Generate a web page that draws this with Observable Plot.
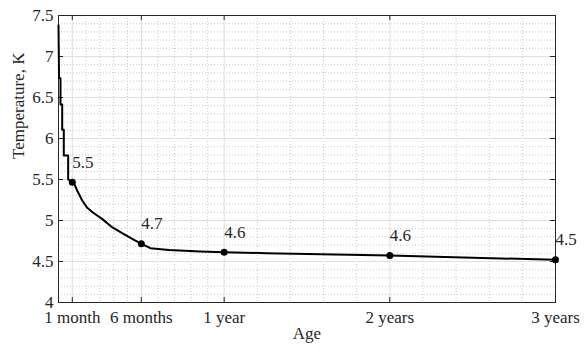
<!DOCTYPE html>
<html>
<head>
<meta charset="utf-8">
<script src="https://cdn.jsdelivr.net/npm/d3@7"></script>
<script src="https://cdn.jsdelivr.net/npm/@observablehq/plot@0.6"></script>
<style>
  html, body { margin: 0; padding: 0; background: #fff; }
  svg text { font-family: "Liberation Serif", "Times New Roman", serif !important; font-variant: normal !important; }
</style>
</head>
<body>
<div id="chart"></div>
<script>
// Age in months, temperature in K
const ageMonths = [0, 0.04, 0.145, 0.145, 0.268, 0.268, 0.384, 0.384, 0.70, 0.70, 1.0,
  1.16, 1.35, 1.72, 2.08, 2.56, 3.16, 3.88, 4.61, 5.34, 6.0,
  6.66, 8.0, 10.28, 12, 15, 18, 24, 30, 36];
const temperature = [7.38, 6.735, 6.735, 6.415, 6.415, 6.106, 6.106, 5.793, 5.793, 5.5, 5.467,
  5.44, 5.366, 5.244, 5.155, 5.089, 5.02, 4.918, 4.845, 4.777, 4.716,
  4.662, 4.64, 4.622, 4.614, 4.602, 4.592, 4.573, 4.547, 4.52];

const markerMonths = [1, 6, 12, 24, 36];
const markerTemps = [5.467, 4.716, 4.614, 4.573, 4.52];
const markerLabels = ["5.5", "4.7", "4.6", "4.6", "4.5"];

const xTickMonths = [1, 6, 12, 24, 36];
const xTickLabels = ["1 month", "6 months", "1 year", "2 years", "3 years"];
const xMinorMonths = [2, 3, 4, 5, 7.2, 8.4, 9.6, 10.8, 14.4, 16.8, 19.2, 21.6, 26.4, 28.8, 31.2, 33.6];
const yTicks = [4, 4.5, 5, 5.5, 6, 6.5, 7, 7.5];
const yTickLabels = ["4", "4.5", "5", "5.5", "6", "6.5", "7", "7.5"];
const yMinor = [4.1, 4.2, 4.3, 4.4, 4.6, 4.7, 4.8, 4.9, 5.1, 5.2, 5.3, 5.4, 5.6, 5.7, 5.8, 5.9,
  6.1, 6.2, 6.3, 6.4, 6.6, 6.7, 6.8, 6.9, 7.1, 7.2, 7.3, 7.4];

const series = ageMonths.map((a, i) => ({age: a, temp: temperature[i]}));
const markers = markerMonths.map((a, i) => ({age: a, temp: markerTemps[i], label: markerLabels[i]}));

const W = 584, H = 352;
const mL = 58, mR = 29, mT = 15, mB = 50;
const plotW = W - mL - mR, plotH = H - mT - mB;
const tick = 5;
const FONT = "Liberation Serif";

const chart = Plot.plot({
  width: W,
  height: H,
  marginLeft: mL,
  marginRight: mR,
  marginTop: mT,
  marginBottom: mB,
  style: {fontFamily: "Liberation Serif, Times New Roman, serif", fontSize: "17px", background: "#fff", color: "#262626"},
  x: {type: "linear", domain: [0, 36]},
  y: {domain: [4, 7.5]},
  marks: [
    Plot.gridX(xMinorMonths, {stroke: "#c8c8c8", strokeOpacity: 1, strokeDasharray: "1,2"}),
    Plot.gridY(yMinor, {stroke: "#c8c8c8", strokeOpacity: 1, strokeDasharray: "1,2"}),
    Plot.gridX(xTickMonths, {stroke: "#e0e0e0", strokeOpacity: 1}),
    Plot.gridY(yTicks, {stroke: "#e0e0e0", strokeOpacity: 1}),
    // inward ticks
    Plot.tickX(xTickMonths, {x: d => d, insetTop: plotH - tick, stroke: "#262626"}),
    Plot.tickX(xTickMonths, {x: d => d, insetBottom: plotH - tick, stroke: "#262626"}),
    Plot.tickY(yTicks, {y: d => d, insetRight: plotW - tick, stroke: "#262626"}),
    Plot.tickY(yTicks, {y: d => d, insetLeft: plotW - tick, stroke: "#262626"}),
    Plot.frame({stroke: "#262626"}),
    Plot.axisX(xTickMonths, {tickSize: 0, tickPadding: 8, fontFamily: FONT, fontSize: 17, fontVariant: "normal", tickFormat: d => xTickLabels[xTickMonths.indexOf(d)], label: null, fill: "#262626"}),
    Plot.axisY(yTicks, {tickSize: 0, tickPadding: 5, fontFamily: FONT, fontSize: 17, fontVariant: "normal", tickFormat: d => yTickLabels[yTicks.indexOf(d)], label: null, fill: "#262626"}),
    Plot.line(series, {x: "age", y: "temp", stroke: "#000", strokeWidth: 2}),
    Plot.dot(markers, {x: "age", y: "temp", r: 3.5, fill: "#000"}),
    Plot.text(markers, {x: "age", y: "temp", text: "label", textAnchor: "start", dx: 0, dy: -20, fontFamily: FONT, fontSize: 17, fill: "#262626"}),
    Plot.text(["Age"], {frameAnchor: "bottom", dy: 36, fontFamily: FONT, fontSize: 17, fill: "#262626"}),
    Plot.text(["Temperature, K"], {frameAnchor: "left", rotate: -90, dx: -40, fontFamily: FONT, fontSize: 17, fill: "#262626"})
  ]
});
document.getElementById("chart").appendChild(chart);
</script>
</body>
</html>
